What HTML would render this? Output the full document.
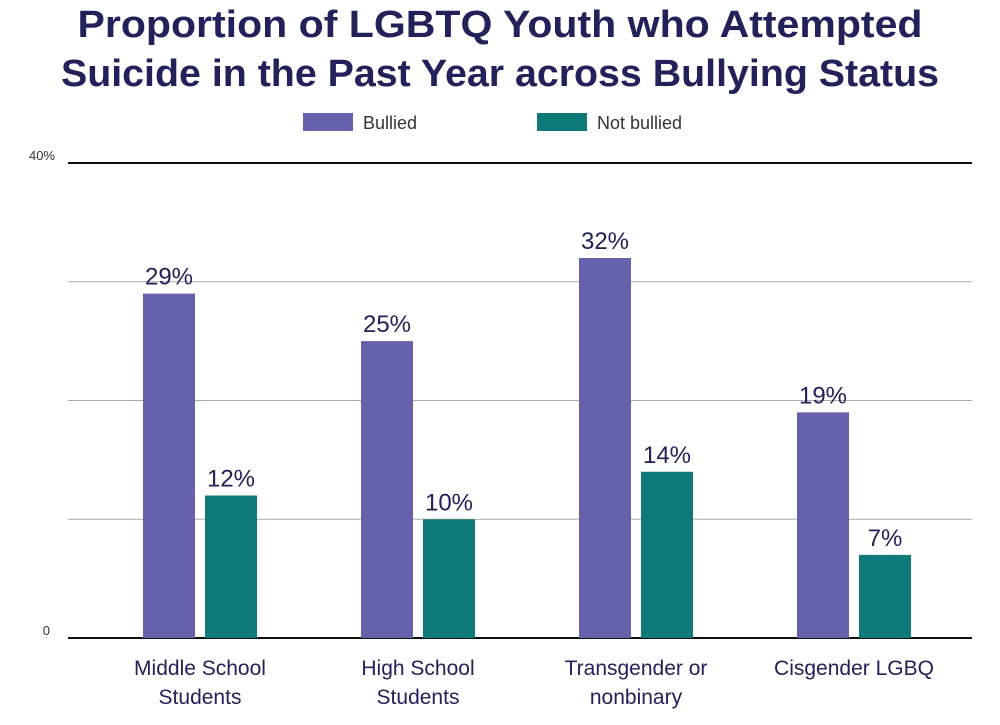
<!DOCTYPE html>
<html><head><meta charset="utf-8"><style>
body{margin:0;background:#fff;width:1000px;height:720px;overflow:hidden;font-family:"Liberation Sans",sans-serif}
</style></head><body>
<svg width="1000" height="720">
<text x="500" y="37" text-anchor="middle" font-size="38" font-weight="bold" fill="#22215a" textLength="845" lengthAdjust="spacingAndGlyphs">Proportion of LGBTQ Youth who Attempted</text>
<text x="500" y="86" text-anchor="middle" font-size="38" font-weight="bold" fill="#22215a" textLength="878" lengthAdjust="spacingAndGlyphs">Suicide in the Past Year across Bullying Status</text>
<g>
<rect x="303" y="113" width="50" height="18" fill="#6661ad"/>
<text x="363" y="129" font-size="18" fill="#333">Bullied</text>
<rect x="537" y="113" width="50" height="18" fill="#0f7a7a"/>
<text x="597" y="129" font-size="18" fill="#333">Not bullied</text>
</g>
<g id="grid"></g>
<g id="bars"></g>
<g id="xlabels"></g>
</svg>
<script>
const categories=[["Middle School","Students"],["High School","Students"],["Transgender or","nonbinary"],["Cisgender LGBQ"]];
const bullied=[29,25,32,19];
const notBullied=[12,10,14,7];
const gridValues=[0,10,20,30,40];
const tickLabels={0:"0",40:"40%"};
const ns="http://www.w3.org/2000/svg";
function y(v){return 638-v*475/40;}
function cx(i){return 200+i*218;}
function mk(t,a,p){const e=document.createElementNS(ns,t);for(const k in a)e.setAttribute(k,a[k]);p.appendChild(e);return e;}
const g=document.getElementById('grid');
gridValues.forEach(v=>{
  const edge=(v===0||v===40);
  const l=mk('line',{x1:68,x2:972,y1:y(v),y2:y(v),stroke:edge?'#111':'#aaa','stroke-width':edge?2:1},g);
  
  
  if(tickLabels[v]!==undefined){
    const t=mk('text',{x:tickLabels[v]==="0"?50:55,y:y(v)-3,'text-anchor':'end','font-size':13,fill:'#333'},g);
    t.textContent=tickLabels[v];
    
    
  }
});
const b=document.getElementById('bars');
function bar(x,v,color,name){
  const r=mk('rect',{x:x,y:y(v),width:52,height:y(0)-y(v),fill:color},b);
  
  
  const t=mk('text',{x:x+26,y:y(v)-9,'text-anchor':'middle','font-size':24,fill:'#22215a'},b);
  t.textContent=v+'%';
  
  
}
categories.forEach((c,i)=>{
  bar(cx(i)-57,bullied[i],'#6661ad','bar-bullied-'+i);
  bar(cx(i)+5,notBullied[i],'#0f7a7a','bar-not-bullied-'+i);
});
const xl=document.getElementById('xlabels');
categories.forEach((c,i)=>{
  c.forEach((line,j)=>{
    const t=mk('text',{x:cx(i),y:675+j*29,'text-anchor':'middle','font-size':21,fill:'#22215a'},xl);
    t.textContent=line;
    
    
  });
});
</script>
</body></html>
